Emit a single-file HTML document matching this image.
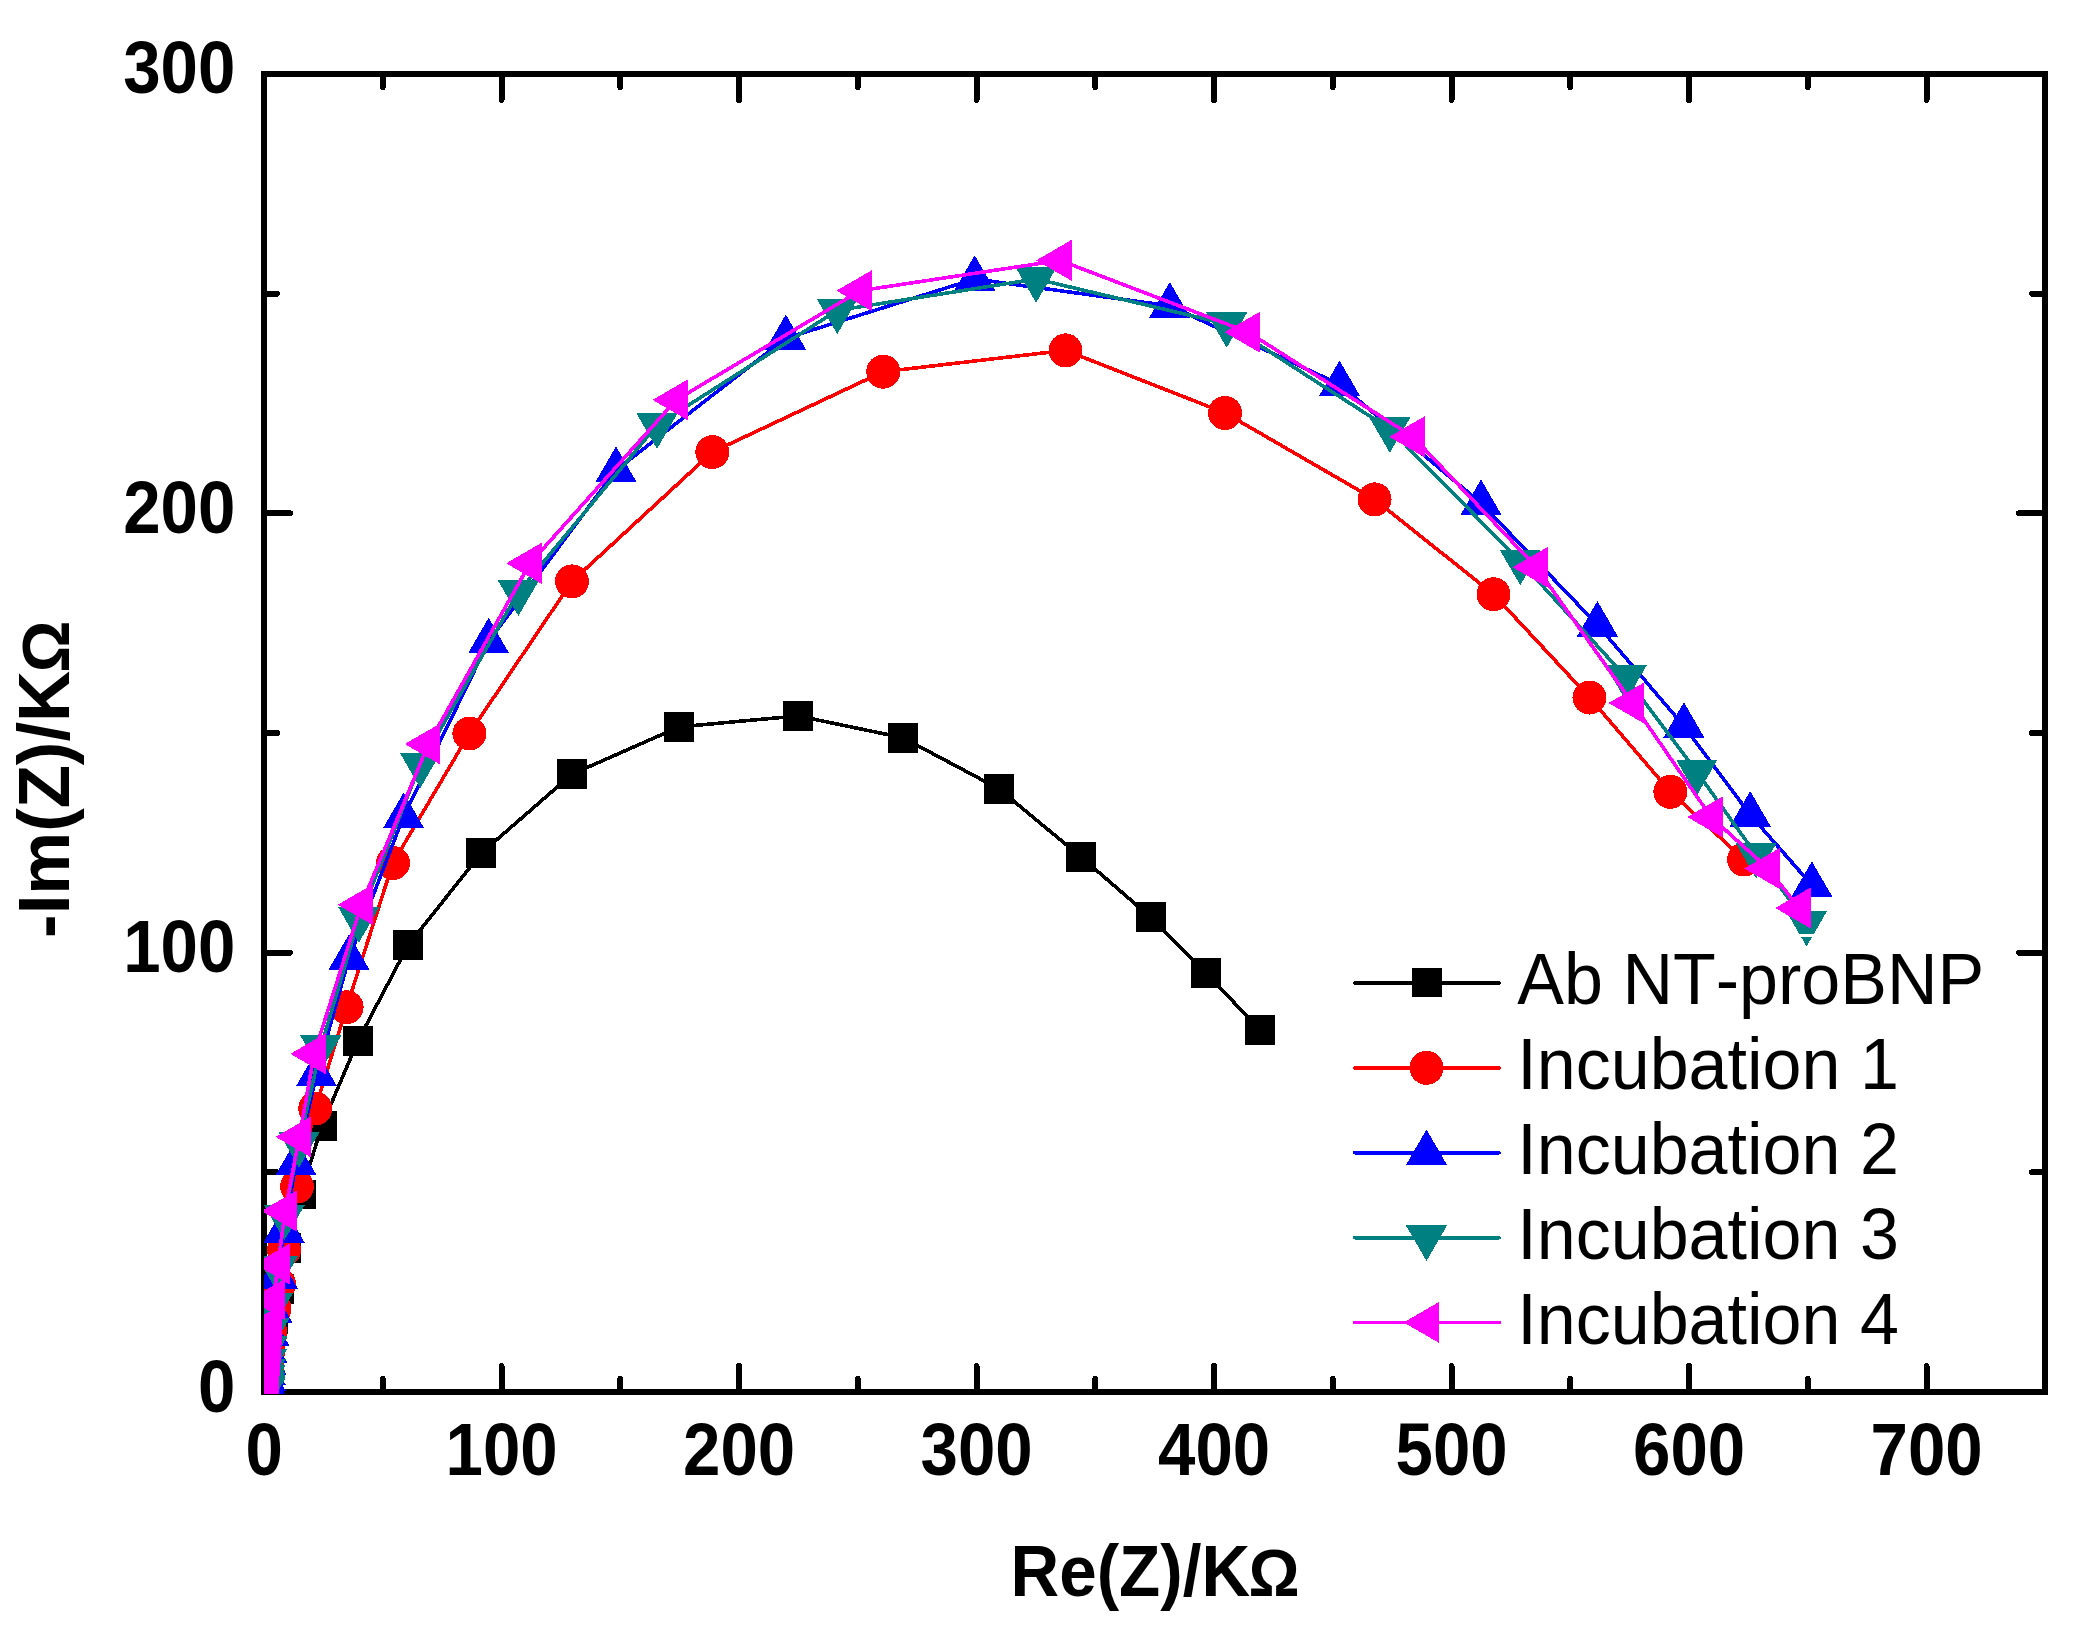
<!DOCTYPE html>
<html lang="en"><head><meta charset="utf-8"><title>Nyquist plot</title>
<style>
html,body{margin:0;padding:0;background:#fff;}
body{width:2095px;height:1631px;overflow:hidden;}
svg{display:block;}
text{font-family:"Liberation Sans",Arial,Helvetica,sans-serif;fill:#000;font-kerning:none;}
.b{font-weight:bold;}
</style></head><body>
<svg width="2095" height="1631" viewBox="0 0 2095 1631" shape-rendering="crispEdges">
<rect x="0" y="0" width="2095" height="1631" fill="#ffffff"/>
<defs><clipPath id="plotclip"><rect x="264.0" y="74.0" width="1781.0" height="1319.7"/></clipPath></defs>
<g stroke="#000" stroke-width="6.0" fill="none" stroke-linecap="round">
<rect x="264.0" y="74.0" width="1781.0" height="1318.0" stroke-linejoin="miter"/>
<line x1="382.75" y1="1392.0" x2="382.75" y2="1379.0"/>
<line x1="382.75" y1="74.0" x2="382.75" y2="87.0"/>
<line x1="501.50" y1="1392.0" x2="501.50" y2="1366.0"/>
<line x1="501.50" y1="74.0" x2="501.50" y2="100.0"/>
<line x1="620.25" y1="1392.0" x2="620.25" y2="1379.0"/>
<line x1="620.25" y1="74.0" x2="620.25" y2="87.0"/>
<line x1="739.00" y1="1392.0" x2="739.00" y2="1366.0"/>
<line x1="739.00" y1="74.0" x2="739.00" y2="100.0"/>
<line x1="857.75" y1="1392.0" x2="857.75" y2="1379.0"/>
<line x1="857.75" y1="74.0" x2="857.75" y2="87.0"/>
<line x1="976.50" y1="1392.0" x2="976.50" y2="1366.0"/>
<line x1="976.50" y1="74.0" x2="976.50" y2="100.0"/>
<line x1="1095.25" y1="1392.0" x2="1095.25" y2="1379.0"/>
<line x1="1095.25" y1="74.0" x2="1095.25" y2="87.0"/>
<line x1="1214.00" y1="1392.0" x2="1214.00" y2="1366.0"/>
<line x1="1214.00" y1="74.0" x2="1214.00" y2="100.0"/>
<line x1="1332.75" y1="1392.0" x2="1332.75" y2="1379.0"/>
<line x1="1332.75" y1="74.0" x2="1332.75" y2="87.0"/>
<line x1="1451.50" y1="1392.0" x2="1451.50" y2="1366.0"/>
<line x1="1451.50" y1="74.0" x2="1451.50" y2="100.0"/>
<line x1="1570.25" y1="1392.0" x2="1570.25" y2="1379.0"/>
<line x1="1570.25" y1="74.0" x2="1570.25" y2="87.0"/>
<line x1="1689.00" y1="1392.0" x2="1689.00" y2="1366.0"/>
<line x1="1689.00" y1="74.0" x2="1689.00" y2="100.0"/>
<line x1="1807.75" y1="1392.0" x2="1807.75" y2="1379.0"/>
<line x1="1807.75" y1="74.0" x2="1807.75" y2="87.0"/>
<line x1="1926.50" y1="1392.0" x2="1926.50" y2="1366.0"/>
<line x1="1926.50" y1="74.0" x2="1926.50" y2="100.0"/>
<line x1="264.0" y1="1172.33" x2="277.0" y2="1172.33"/>
<line x1="2045.0" y1="1172.33" x2="2032.0" y2="1172.33"/>
<line x1="264.0" y1="952.67" x2="290.0" y2="952.67"/>
<line x1="2045.0" y1="952.67" x2="2019.0" y2="952.67"/>
<line x1="264.0" y1="733.00" x2="277.0" y2="733.00"/>
<line x1="2045.0" y1="733.00" x2="2032.0" y2="733.00"/>
<line x1="264.0" y1="513.33" x2="290.0" y2="513.33"/>
<line x1="2045.0" y1="513.33" x2="2019.0" y2="513.33"/>
<line x1="264.0" y1="293.67" x2="277.0" y2="293.67"/>
<line x1="2045.0" y1="293.67" x2="2032.0" y2="293.67"/>
</g>
<text class="b" font-size="74.5" text-anchor="end" transform="translate(235.30,1411.60) scale(0.902,1.0)">0</text>
<text class="b" font-size="74.5" text-anchor="end" transform="translate(235.30,972.27) scale(0.902,1.0)">100</text>
<text class="b" font-size="74.5" text-anchor="end" transform="translate(235.30,532.93) scale(0.902,1.0)">200</text>
<text class="b" font-size="74.5" text-anchor="end" transform="translate(235.30,92.80) scale(0.902,1.0)">300</text>
<text class="b" font-size="74.5" text-anchor="middle" transform="translate(264.10,1475.10) scale(0.902,1.0)">0</text>
<text class="b" font-size="74.5" text-anchor="middle" transform="translate(501.60,1475.10) scale(0.902,1.0)">100</text>
<text class="b" font-size="74.5" text-anchor="middle" transform="translate(739.10,1475.10) scale(0.902,1.0)">200</text>
<text class="b" font-size="74.5" text-anchor="middle" transform="translate(976.60,1475.10) scale(0.902,1.0)">300</text>
<text class="b" font-size="74.5" text-anchor="middle" transform="translate(1214.10,1475.10) scale(0.902,1.0)">400</text>
<text class="b" font-size="74.5" text-anchor="middle" transform="translate(1451.60,1475.10) scale(0.902,1.0)">500</text>
<text class="b" font-size="74.5" text-anchor="middle" transform="translate(1689.10,1475.10) scale(0.902,1.0)">600</text>
<text class="b" font-size="74.5" text-anchor="middle" transform="translate(1926.60,1475.10) scale(0.902,1.0)">700</text>
<text class="b" font-size="72" text-anchor="start" transform="translate(1010.50,1595.60) scale(0.936,1.0)">Re(Z)/K</text>
<text class="b" font-size="66.5" text-anchor="start" transform="translate(1248.60,1595.60) scale(0.958,1.0)">Ω</text>
<text class="b" font-size="72" text-anchor="start" transform="translate(68.75,937.90) rotate(-90) scale(0.982,1.0)">-Im(Z)/K</text>
<text class="b" font-size="66.5" text-anchor="start" transform="translate(68.75,672.40) rotate(-90) scale(0.975,1.0)">Ω</text>
<g clip-path="url(#plotclip)">
<polyline fill="none" stroke="#000000" stroke-width="3.6" stroke-linejoin="round" stroke-linecap="round" points="1259.9,1029.7 1206.2,973.3 1150.6,917.2 1081.1,857.0 998.8,788.8 903.1,737.8 798.0,715.9 679.1,726.9 572.0,774.2 481.2,853.2 408.2,945.1 358.0,1040.7 321.8,1125.8 300.7,1194.5 286.0,1247.8 278.8,1288.7 272.8,1319.0 270.2,1340.4 268.6,1355.5 267.6,1366.2 267.0,1373.8 266.6,1379.1 266.4,1382.9 266.2,1385.5 266.1,1387.4 266.1,1388.8 266.1,1389.7 266.0,1390.4 266.0,1390.9"/>
<g fill="#000000"><rect x="1245.0" y="1014.8" width="29.8" height="29.8"/><rect x="1191.3" y="958.4" width="29.8" height="29.8"/><rect x="1135.7" y="902.3" width="29.8" height="29.8"/><rect x="1066.2" y="842.1" width="29.8" height="29.8"/><rect x="983.9" y="773.9" width="29.8" height="29.8"/><rect x="888.2" y="722.9" width="29.8" height="29.8"/><rect x="783.1" y="701.0" width="29.8" height="29.8"/><rect x="664.2" y="712.0" width="29.8" height="29.8"/><rect x="557.1" y="759.3" width="29.8" height="29.8"/><rect x="466.3" y="838.3" width="29.8" height="29.8"/><rect x="393.3" y="930.2" width="29.8" height="29.8"/><rect x="343.1" y="1025.8" width="29.8" height="29.8"/><rect x="306.9" y="1110.9" width="29.8" height="29.8"/><rect x="285.8" y="1179.6" width="29.8" height="29.8"/><rect x="271.1" y="1232.9" width="29.8" height="29.8"/><rect x="263.9" y="1273.8" width="29.8" height="29.8"/><rect x="257.9" y="1304.1" width="29.8" height="29.8"/><rect x="255.3" y="1325.5" width="29.8" height="29.8"/><rect x="253.7" y="1340.6" width="29.8" height="29.8"/><rect x="252.7" y="1351.3" width="29.8" height="29.8"/><rect x="252.1" y="1358.8" width="29.8" height="29.8"/><rect x="251.7" y="1364.2" width="29.8" height="29.8"/><rect x="251.5" y="1368.0" width="29.8" height="29.8"/><rect x="251.3" y="1370.6" width="29.8" height="29.8"/><rect x="251.2" y="1372.5" width="29.8" height="29.8"/><rect x="251.2" y="1373.9" width="29.8" height="29.8"/><rect x="251.2" y="1374.8" width="29.8" height="29.8"/><rect x="251.1" y="1375.5" width="29.8" height="29.8"/><rect x="251.1" y="1376.0" width="29.8" height="29.8"/></g>
<polyline fill="none" stroke="#ff0000" stroke-width="3.6" stroke-linejoin="round" stroke-linecap="round" points="1744.0,859.5 1670.4,791.8 1589.5,697.5 1493.5,594.3 1374.6,499.4 1225.0,412.9 1065.5,350.4 883.3,371.7 712.3,452.1 572.0,581.4 469.4,733.5 392.9,863.0 346.6,1007.3 315.3,1108.5 297.0,1186.5 284.0,1249.8 279.0,1284.0 274.5,1309.0 270.5,1333.0 268.6,1350.3 267.4,1362.5 266.7,1371.1 266.2,1377.2 266.0,1381.6 265.8,1384.6 265.7,1386.8 265.6,1388.3 265.6,1389.4 265.5,1390.2 265.5,1390.7"/>
<g fill="#ff0000"><circle cx="1744.0" cy="859.5" r="17.0"/><circle cx="1670.4" cy="791.8" r="17.0"/><circle cx="1589.5" cy="697.5" r="17.0"/><circle cx="1493.5" cy="594.3" r="17.0"/><circle cx="1374.6" cy="499.4" r="17.0"/><circle cx="1225.0" cy="412.9" r="17.0"/><circle cx="1065.5" cy="350.4" r="17.0"/><circle cx="883.3" cy="371.7" r="17.0"/><circle cx="712.3" cy="452.1" r="17.0"/><circle cx="572.0" cy="581.4" r="17.0"/><circle cx="469.4" cy="733.5" r="17.0"/><circle cx="392.9" cy="863.0" r="17.0"/><circle cx="346.6" cy="1007.3" r="17.0"/><circle cx="315.3" cy="1108.5" r="17.0"/><circle cx="297.0" cy="1186.5" r="17.0"/><circle cx="284.0" cy="1249.8" r="17.0"/><circle cx="279.0" cy="1284.0" r="17.0"/><circle cx="274.5" cy="1309.0" r="17.0"/><circle cx="270.5" cy="1333.0" r="17.0"/><circle cx="268.6" cy="1350.3" r="17.0"/><circle cx="267.4" cy="1362.5" r="17.0"/><circle cx="266.7" cy="1371.1" r="17.0"/><circle cx="266.2" cy="1377.2" r="17.0"/><circle cx="266.0" cy="1381.6" r="17.0"/><circle cx="265.8" cy="1384.6" r="17.0"/><circle cx="265.7" cy="1386.8" r="17.0"/><circle cx="265.6" cy="1388.3" r="17.0"/><circle cx="265.6" cy="1389.4" r="17.0"/><circle cx="265.5" cy="1390.2" r="17.0"/><circle cx="265.5" cy="1390.7" r="17.0"/></g>
<polyline fill="none" stroke="#0000ff" stroke-width="3.6" stroke-linejoin="round" stroke-linecap="round" points="1811.9,885.2 1750.2,814.8 1683.9,726.0 1597.4,624.8 1481.0,503.2 1339.5,384.3 1169.8,305.8 974.7,279.0 785.8,338.3 616.0,470.2 488.6,641.5 403.6,816.3 349.0,958.0 316.5,1074.5 296.0,1163.4 284.0,1230.6 277.1,1276.7 272.2,1311.3 269.2,1334.4 267.0,1351.0 266.1,1363.3 265.1,1373.0 264.9,1378.6 264.8,1382.5 264.7,1385.3 264.7,1387.2 264.6,1388.6 264.6,1389.6 264.6,1390.3 264.6,1390.8"/>
<g fill="#0000ff"><polygon points="1811.9,861.4 1791.2,897.1 1832.6,897.1"/><polygon points="1750.2,791.0 1729.5,826.7 1770.9,826.7"/><polygon points="1683.9,702.2 1663.2,737.9 1704.6,737.9"/><polygon points="1597.4,601.0 1576.8,636.7 1618.1,636.7"/><polygon points="1481.0,479.4 1460.3,515.1 1501.7,515.1"/><polygon points="1339.5,360.5 1318.8,396.2 1360.2,396.2"/><polygon points="1169.8,282.0 1149.1,317.7 1190.5,317.7"/><polygon points="974.7,255.2 954.1,290.9 995.4,290.9"/><polygon points="785.8,314.5 765.1,350.2 806.4,350.2"/><polygon points="616.0,446.4 595.4,482.1 636.6,482.1"/><polygon points="488.6,617.7 468.0,653.4 509.2,653.4"/><polygon points="403.6,792.5 383.0,828.2 424.2,828.2"/><polygon points="349.0,934.2 328.4,969.9 369.6,969.9"/><polygon points="316.5,1050.7 295.9,1086.4 337.1,1086.4"/><polygon points="296.0,1139.6 275.4,1175.3 316.6,1175.3"/><polygon points="284.0,1206.8 263.4,1242.5 304.6,1242.5"/><polygon points="277.1,1252.9 256.5,1288.6 297.8,1288.6"/><polygon points="272.2,1287.5 251.5,1323.2 292.8,1323.2"/><polygon points="269.2,1310.6 248.5,1346.3 289.8,1346.3"/><polygon points="267.0,1327.2 246.3,1362.9 287.6,1362.9"/><polygon points="266.1,1339.5 245.5,1375.2 286.8,1375.2"/><polygon points="265.1,1349.2 244.5,1384.9 285.8,1384.9"/><polygon points="264.9,1354.7 244.3,1390.5 285.6,1390.5"/><polygon points="264.8,1358.7 244.1,1394.4 285.4,1394.4"/><polygon points="264.7,1361.4 244.1,1397.2 285.4,1397.2"/><polygon points="264.7,1363.4 244.0,1399.2 285.3,1399.2"/><polygon points="264.6,1364.8 244.0,1400.6 285.3,1400.6"/><polygon points="264.6,1365.8 244.0,1401.5 285.3,1401.5"/><polygon points="264.6,1366.5 244.0,1402.2 285.3,1402.2"/><polygon points="264.6,1367.0 244.0,1402.7 285.3,1402.7"/></g>
<polyline fill="none" stroke="#008080" stroke-width="3.6" stroke-linejoin="round" stroke-linecap="round" points="1806.6,922.7 1756.1,854.6 1696.8,771.7 1626.0,677.3 1520.3,561.5 1389.8,429.0 1226.7,324.0 1036.1,279.0 837.3,310.4 657.0,425.2 518.4,592.2 420.3,764.4 358.8,919.1 320.8,1047.3 299.0,1143.8 284.4,1216.6 277.3,1268.2 272.4,1305.0 269.0,1330.0 267.0,1348.0 266.1,1361.3 265.1,1371.0 264.9,1377.2 264.8,1381.5 264.7,1384.6 264.7,1386.8 264.6,1388.3 264.6,1389.4 264.6,1390.1 264.6,1390.7"/>
<g fill="#008080"><polygon points="1806.6,946.5 1785.9,910.8 1827.2,910.8"/><polygon points="1756.1,878.4 1735.4,842.7 1776.8,842.7"/><polygon points="1696.8,795.5 1676.1,759.8 1717.5,759.8"/><polygon points="1626.0,701.1 1605.3,665.4 1646.7,665.4"/><polygon points="1520.3,585.3 1499.6,549.6 1541.0,549.6"/><polygon points="1389.8,452.8 1369.1,417.1 1410.5,417.1"/><polygon points="1226.7,347.8 1206.0,312.1 1247.4,312.1"/><polygon points="1036.1,302.8 1015.4,267.1 1056.8,267.1"/><polygon points="837.3,334.2 816.6,298.5 857.9,298.5"/><polygon points="657.0,449.0 636.4,413.3 677.6,413.3"/><polygon points="518.4,616.0 497.8,580.3 539.0,580.3"/><polygon points="420.3,788.2 399.7,752.5 440.9,752.5"/><polygon points="358.8,942.9 338.2,907.2 379.4,907.2"/><polygon points="320.8,1071.1 300.2,1035.4 341.4,1035.4"/><polygon points="299.0,1167.6 278.4,1131.9 319.6,1131.9"/><polygon points="284.4,1240.4 263.8,1204.7 305.0,1204.7"/><polygon points="277.3,1292.0 256.7,1256.3 297.9,1256.3"/><polygon points="272.4,1328.8 251.7,1293.1 293.0,1293.1"/><polygon points="269.0,1353.8 248.3,1318.1 289.6,1318.1"/><polygon points="267.0,1371.8 246.3,1336.1 287.6,1336.1"/><polygon points="266.1,1385.1 245.5,1349.4 286.8,1349.4"/><polygon points="265.1,1394.8 244.5,1359.1 285.8,1359.1"/><polygon points="264.9,1401.0 244.3,1365.2 285.6,1365.2"/><polygon points="264.8,1405.3 244.1,1369.6 285.4,1369.6"/><polygon points="264.7,1408.4 244.1,1372.7 285.4,1372.7"/><polygon points="264.7,1410.6 244.0,1374.8 285.3,1374.8"/><polygon points="264.6,1412.1 244.0,1376.4 285.3,1376.4"/><polygon points="264.6,1413.2 244.0,1377.5 285.3,1377.5"/><polygon points="264.6,1414.0 244.0,1378.2 285.3,1378.2"/><polygon points="264.6,1414.5 244.0,1378.8 285.3,1378.8"/></g>
<polyline fill="none" stroke="#ff00ff" stroke-width="3.6" stroke-linejoin="round" stroke-linecap="round" points="1799.0,908.0 1768.0,868.5 1711.0,817.0 1632.4,703.0 1536.4,567.3 1413.0,436.8 1248.2,332.2 1060.0,260.4 860.2,290.7 676.3,399.9 530.0,563.3 428.5,744.0 361.4,904.8 314.2,1053.8 299.4,1136.9 285.1,1211.0 278.2,1264.0 273.1,1299.6 270.2,1325.0 269.2,1343.0 268.2,1356.0 267.4,1365.5 266.8,1373.3 266.4,1378.8 266.2,1382.6 266.0,1385.4 265.9,1387.3 265.9,1388.7 265.9,1389.7 265.8,1390.3"/>
<g fill="#ff00ff"><polygon points="1775.2,908.0 1810.9,887.4 1810.9,928.6"/><polygon points="1744.2,868.5 1779.9,847.9 1779.9,889.1"/><polygon points="1687.2,817.0 1722.9,796.4 1722.9,837.6"/><polygon points="1608.6,703.0 1644.3,682.4 1644.3,723.6"/><polygon points="1512.6,567.3 1548.3,546.6 1548.3,587.9"/><polygon points="1389.2,436.8 1424.9,416.2 1424.9,457.4"/><polygon points="1224.4,332.2 1260.1,311.6 1260.1,352.8"/><polygon points="1036.2,260.4 1071.9,239.7 1071.9,281.0"/><polygon points="836.4,290.7 872.1,270.1 872.1,311.3"/><polygon points="652.5,399.9 688.2,379.2 688.2,420.5"/><polygon points="506.2,563.3 541.9,542.6 541.9,583.9"/><polygon points="404.7,744.0 440.4,723.4 440.4,764.6"/><polygon points="337.6,904.8 373.3,884.1 373.3,925.4"/><polygon points="290.4,1053.8 326.1,1033.1 326.1,1074.5"/><polygon points="275.6,1136.9 311.3,1116.2 311.3,1157.6"/><polygon points="261.3,1211.0 297.0,1190.3 297.0,1231.7"/><polygon points="254.4,1264.0 290.1,1243.3 290.1,1284.7"/><polygon points="249.3,1299.6 285.0,1278.9 285.0,1320.2"/><polygon points="246.4,1325.0 282.1,1304.3 282.1,1345.7"/><polygon points="245.4,1343.0 281.1,1322.3 281.1,1363.7"/><polygon points="244.4,1356.0 280.1,1335.3 280.1,1376.7"/><polygon points="243.6,1365.5 279.3,1344.8 279.3,1386.2"/><polygon points="242.9,1373.3 278.7,1352.6 278.7,1393.9"/><polygon points="242.6,1378.8 278.3,1358.1 278.3,1399.4"/><polygon points="242.3,1382.6 278.1,1362.0 278.1,1403.3"/><polygon points="242.2,1385.4 278.0,1364.7 278.0,1406.0"/><polygon points="242.1,1387.3 277.9,1366.7 277.9,1408.0"/><polygon points="242.0,1388.7 277.8,1368.0 277.8,1409.3"/><polygon points="242.0,1389.7 277.8,1369.0 277.8,1410.3"/><polygon points="242.0,1390.3 277.8,1369.7 277.8,1411.0"/></g>
</g>
<rect x="1340" y="934" width="660" height="3.1" fill="#ffffff"/>
<line x1="1355" y1="982.9" x2="1499" y2="982.9" stroke="#000000" stroke-width="3.8000000000000003" stroke-linecap="round"/>
<g fill="#000000"><rect x="1412.1" y="967.6" width="29.8" height="29.8"/></g>
<text font-size="72.8" text-anchor="start" transform="translate(1517.30,1004.10) scale(0.962,1.0)">Ab NT-proBNP</text>
<line x1="1355" y1="1067.8" x2="1499" y2="1067.8" stroke="#ff0000" stroke-width="3.8000000000000003" stroke-linecap="round"/>
<g fill="#ff0000"><circle cx="1426.5" cy="1067.8" r="17.0"/></g>
<text font-size="72.8" text-anchor="start" transform="translate(1517.30,1089.00) scale(0.962,1.0)">Incubation 1</text>
<line x1="1355" y1="1152.7" x2="1499" y2="1152.7" stroke="#0000ff" stroke-width="3.8000000000000003" stroke-linecap="round"/>
<g fill="#0000ff"><polygon points="1426.5,1129.5 1405.8,1165.2 1447.2,1165.2"/></g>
<text font-size="72.8" text-anchor="start" transform="translate(1517.30,1173.90) scale(0.962,1.0)">Incubation 2</text>
<line x1="1355" y1="1237.7" x2="1499" y2="1237.7" stroke="#008080" stroke-width="3.8000000000000003" stroke-linecap="round"/>
<g fill="#008080"><polygon points="1426.5,1261.0 1405.8,1225.3 1447.2,1225.3"/></g>
<text font-size="72.8" text-anchor="start" transform="translate(1517.30,1258.90) scale(0.962,1.0)">Incubation 3</text>
<line x1="1355" y1="1322.4" x2="1499" y2="1322.4" stroke="#ff00ff" stroke-width="3.8000000000000003" stroke-linecap="round"/>
<g fill="#ff00ff"><polygon points="1403.7,1322.4 1439.4,1301.8 1439.4,1343.1"/></g>
<text font-size="72.8" text-anchor="start" transform="translate(1517.30,1343.60) scale(0.962,1.0)">Incubation 4</text>
</svg></body></html>
